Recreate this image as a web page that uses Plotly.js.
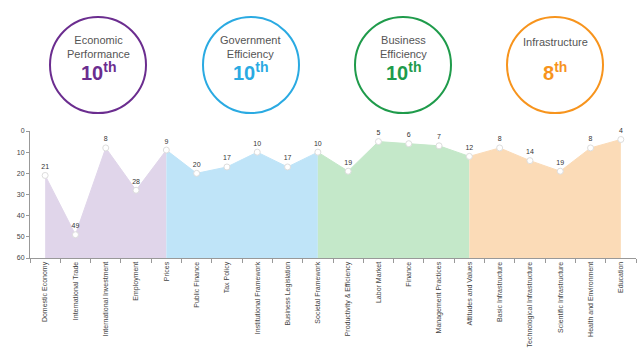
<!DOCTYPE html>
<html><head><meta charset="utf-8">
<script src="https://cdn.plot.ly/plotly-3.0.1.min.js"></script>
<style>html,body{margin:0;padding:0;background:#fff;}#chart{width:640px;height:356px;}</style>
</head><body><div id="chart"></div>
<script>
// ---- data ----
var categories = ["Domestic Economy","International Trade","International Investment","Employment","Prices",
  "Public Finance","Tax Policy","Institutional Framework","Business Legislation","Societal Framework",
  "Productivity & Efficiency","Labor Market","Finance","Management Practices","Attitudes and Values",
  "Basic Infrastructure","Technological Infrastructure","Scientific Infrastructure","Health and Environment","Education"];
var ranks = [21,49,8,28,9, 20,17,10,17,10, 19,5,6,7,12, 8,14,19,8,4];
var factorNames = ["Economic<br>Performance","Government<br>Efficiency","Business<br>Efficiency","Infrastructure"];
var factorRanks = [10,10,10,8];
// index ranges of each factor's area (start, end inclusive)
var groupStart = [0,4,9,14];
var groupEnd = [4,9,14,19];

// ---- styles ----
var fillColors = ["#e0d5ea","#bfe4f8","#c4e8c9","#fbdbb7"];
var ringColors = ["#6b2d8f","#2aaae2","#1f9b4b","#f7941d"];
var bottom = 60;

var L=30, R=4, T=131, B=98, W=640, H=356;
function px(x){return (x-L)/(W-L-R);}
function py(y){return (H-B-y)/(H-T-B);}

var traces = [];
for (var g=0; g<4; g++){
  var xs = categories.slice(groupStart[g], groupEnd[g]+1);
  var ys = ranks.slice(groupStart[g], groupEnd[g]+1);
  traces.push({x: xs, y: xs.map(function(){return bottom;}), type:'scatter', mode:'lines',
    line:{width:0, color:fillColors[g]}, hoverinfo:'skip', showlegend:false});
  traces.push({x: xs, y: ys, type:'scatter', mode:'lines', fill:'tonexty', fillcolor:fillColors[g],
    line:{width:1, color:fillColors[g]}, hoverinfo:'skip', showlegend:false});
}
traces.push({x: categories, y: ranks, type:'scatter', mode:'markers+text',
  text: ranks.map(String), textposition:'top center',
  textfont:{family:'Liberation Sans, Arial, sans-serif', size:7, color:'#333'},
  marker:{size:6, color:'#ffffff', line:{width:1, color:'#dddddd'}}, showlegend:false, cliponaxis:false});

var centers = [98,251,403,555], cy = 65, r = 48;
var shapes = [], annotations = [];
for (var i=0;i<4;i++){
  shapes.push({type:'circle', xref:'paper', yref:'paper',
    x0:px(centers[i]-r), x1:px(centers[i]+r), y0:py(cy+r), y1:py(cy-r),
    line:{color:ringColors[i], width:2}});
  var twoLine = factorNames[i].indexOf('<br>')>=0;
  annotations.push({xref:'paper', yref:'paper', x:px(centers[i]), y:py(twoLine?47:42),
    text:factorNames[i], showarrow:false, xanchor:'center', yanchor:'middle',
    font:{family:'Liberation Sans, Arial, sans-serif', size:11, color:'#555'}});
  annotations.push({xref:'paper', yref:'paper', x:px(centers[i]), y:py(71),
    text:'<b>'+factorRanks[i]+'<sup>th</sup></b>', showarrow:false, xanchor:'center', yanchor:'middle',
    font:{family:'Liberation Sans, Arial, sans-serif', size:20, color:ringColors[i]}});
}

var layout = {
  width:W, height:H, margin:{l:L, r:R, t:T, b:B}, paper_bgcolor:'#fff', plot_bgcolor:'#fff',
  showlegend:false,
  xaxis:{type:'category', range:[-0.5,19.5], showgrid:false, zeroline:false,
    showline:true, linecolor:'#999', linewidth:1, ticks:'outside', ticklen:4, tickcolor:'#999',
    tickson:'boundaries', tickangle:-90,
    tickfont:{family:'Liberation Sans, Arial, sans-serif', size:7, color:'#444'}},
  yaxis:{range:[60,0], tickvals:[0,10,20,30,40,50,60], showgrid:false, zeroline:false,
    showline:true, linecolor:'#999', linewidth:1, ticks:'outside', ticklen:3, tickcolor:'#999',
    tickfont:{family:'Liberation Sans, Arial, sans-serif', size:7, color:'#444'}},
  shapes:shapes, annotations:annotations
};
Plotly.newPlot('chart', traces, layout, {displayModeBar:false, staticPlot:true});
</script></body></html>
